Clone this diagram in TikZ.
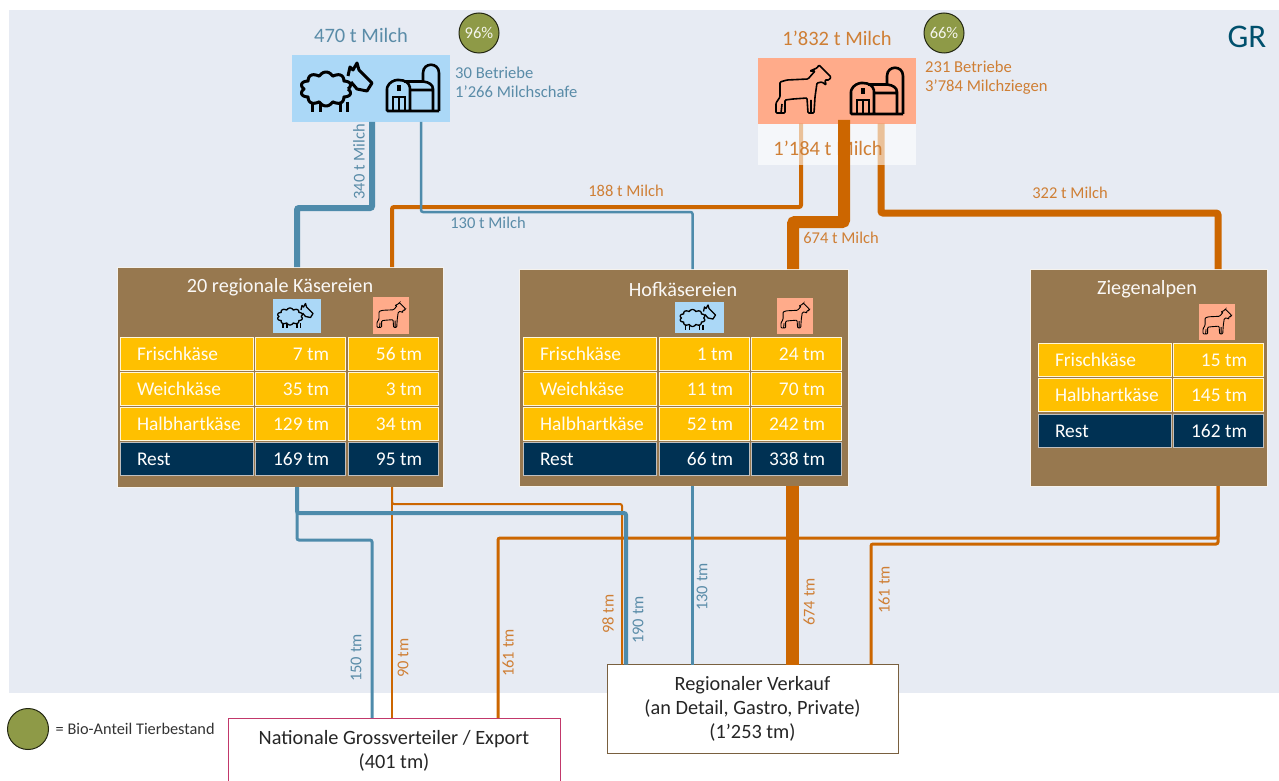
\documentclass[tikz,border=0pt]{standalone}
\usepackage{fontspec}
\setmainfont{Carlito}
\usetikzlibrary{positioning}
\definecolor{bgblue}{HTML}{E7EBF3}
\definecolor{sheepfill}{HTML}{ABD8F7}
\definecolor{goatfill}{HTML}{FFAB8A}
\definecolor{bioolive}{HTML}{8E9A47}
\definecolor{brownbox}{HTML}{97784F}
\definecolor{cellgold}{HTML}{FFC000}
\definecolor{cellnavy}{HTML}{003153}
\definecolor{linesheep}{HTML}{4E8BAB}
\definecolor{linegoat}{HTML}{CC6600}
\definecolor{textsheep}{HTML}{5A8CA8}
\definecolor{textgoat}{HTML}{CF7F35}
\definecolor{borderpink}{HTML}{C2386B}
\tikzset{
    %Define style for cheese table cells
    cellname/.style={
           rectangle,
           fill=cellgold,
           draw=white!85!cellgold, line width=1pt,
           inner sep=0pt, outer sep=0pt,
           text width=133pt,
           minimum height=33pt,
           text height=14pt, text depth=1pt,
           align=left,
           execute at begin node=\hspace*{17pt},
           text=white!95!cellgold,
           font=\fontsize{19.4}{21}\selectfont},
    cellnum/.style={
           cellname,
           text width=90pt,
           execute at begin node={},
           execute at end node=\hspace*{16pt},
           align=flush right},
    restcell/.style={
           fill=cellnavy,
           draw=white!75!black,
           text=white},
    %Define style for boxes
    dairy/.style={
           rectangle,
           fill=brownbox,
           draw=white!90!brownbox, line width=1pt,
           inner sep=0pt, outer sep=0pt},
    dairytitle/.style={
           text=white!95!brownbox,
           font=\fontsize{20.2}{22}\selectfont},
    farm/.style={
           rectangle,
           inner sep=0pt, outer sep=0pt,
           minimum width=158pt},
    tile/.style={
           rectangle,
           inner sep=0pt, outer sep=0pt,
           minimum height=34pt},
    bio/.style={
           circle,
           fill=bioolive,
           draw=black!75!bioolive, line width=1pt,
           inner sep=0pt, outer sep=0pt,
           minimum size=40pt,
           text=white!90!bioolive,
           font=\fontsize{16.5}{18}\selectfont},
    sale/.style={
           rectangle,
           fill=white,
           inner sep=0pt, outer sep=0pt,
           align=center,
           text=black!85,
           font=\fontsize{20.3}{24}\selectfont},
    %Define styles for flows and their labels
    flow/.style={
           rounded corners=2pt,
           line cap=butt},
    sheepflow/.style={flow, draw=linesheep},
    goatflow/.style={flow, draw=linegoat},
    sheeptext/.style={text=textsheep, inner sep=0pt, font=\fontsize{16.5}{18.5}\selectfont},
    goattext/.style={text=textgoat, inner sep=0pt, font=\fontsize{16.5}{18.5}\selectfont},
    bigmilk/.style={inner sep=0pt, font=\fontsize{20.5}{22}\selectfont},
    %Define icons
    sheepicon/.pic={
       \draw[line join=round] plot[domain=0:360, samples=91, smooth]
          ({-12+(22+3.5*abs(sin(5*\x)))*cos(\x)},{1+(13.5+3.5*abs(sin(5*\x)))*sin(\x)});
       \draw (-26,15) -- (-26,24) (-18,16) -- (-18,24) (2,15) -- (2,24) (9,14) -- (9,24);
       \draw[fill=none, line join=round] (10,-12) -- (12,-21) -- (15,-18) -- (19,-25) -- (21,-18) -- (34,-5)
          -- (29,3) -- (19,1) -- (13,-6);
    },
    goaticon/.pic={
       \draw[rounded corners=1pt] (-23,-8) -- (-16,-10) -- (5,-11) -- (12,-19) -- (7,-19) -- (14,-22)
          -- (16,-25) -- (20,-21) -- (28,-13) -- (26,-10) -- (22,-10) -- (23,-5) -- (19,-8) -- (14,-7)
          -- (12,7) -- (11,23) -- (5,23) -- (4,8) -- (-10,9) -- (-18,10) -- (-18,23) -- (-27,23)
          -- (-27,13) -- (-23,7) -- cycle;
       \draw (-22,23) -- (-21,14) (8,23) -- (8,10);
    },
    barnicon/.pic={
       \draw[rounded corners=1pt] (26,23) -- (-26,23) -- (-26,0) .. controls (-24,-6) and (-18,-8) .. (-15,-8)
          .. controls (-8,-8) and (-4,-5) .. (-3,0) -- (-3,23);
       \draw (-20,23) -- (-20,9) -- (-8,9) -- (-8,23) (-14,9) -- (-14,23);
       \draw (-15,-2) rectangle (-13,2);
       \draw (-9,-6.5) -- (10,-6.5) .. controls (16,-6) and (20,-3) .. (20,1) -- (20,23) (-3,2) -- (20,2);
       \draw (10,-6) -- (10,-15) .. controls (10,-26) and (26,-26) .. (26,-15) -- (26,23);
    }
}
\begin{document}
\begin{tikzpicture}[x=1pt,y=-1pt]
\useasboundingbox (0,0) rectangle (1279,781);
\clip (0,0) rectangle (1279,781);

 %background
\fill[bgblue] (9,10) rectangle (1279,693);
\node[text=cellnavy!85!cyan, inner sep=0pt, font=\fontsize{33}{35}\selectfont] (region) at (1247,37) {GR};

 %farms
\node[farm, fill=sheepfill, minimum height=67pt] (sheepfarm) at (371,88.5) {};
\node[farm, fill=goatfill, minimum height=66pt] (goatfarm) at (837,91) {};
\node[bio] (biosheep) at (479,33) {96\%};
\node[bio] (biogoat) at (944,33) {66\%};
\node[bigmilk, text=textsheep] (sheepmilk) at (361,35) {470 t Milch};
\node[bigmilk, text=textgoat] (goatmilk) at (837,38) {1’832 t Milch};
\node[inner sep=0pt, anchor=west, align=left, text=textsheep, font=\fontsize{16.6}{19}\selectfont] (sheepinfo) at (455,82.5) {30 Betriebe\\1’266 Milchschafe};
\node[inner sep=0pt, anchor=west, align=left, text=textgoat, font=\fontsize{16.6}{19}\selectfont] (goatinfo) at (925,77.5) {231 Betriebe\\3’784 Milchziegen};
\pic[line width=3pt] at (338,88) {sheepicon};
\pic[line width=2.6pt] at (413,88) {barnicon};
\pic[line width=1.6pt] at (803,90) {goaticon};
\pic[line width=2.6pt] at (877,91) {barnicon};

 %dairies
\node[dairy, minimum width=326pt, minimum height=220pt] (regio) at (280,377) {};
\node[dairy, minimum width=329pt, minimum height=217pt] (hof) at (683.5,377.5) {};
\node[dairy, minimum width=237pt, minimum height=217pt] (alp) at (1148.5,377.5) {};
\node[dairytitle] (regiotitle) at (280,287) {20 regionale Käsereien};
\node[dairytitle] (hoftitle) at (683,289) {Hofkäsereien};
\node[dairytitle] (alptitle) at (1147,289) {Ziegenalpen};

 %icon tiles
\node[tile, fill=sheepfill, minimum width=48pt] (regiosheep) at (297,316) {};
\node[tile, fill=goatfill, minimum width=36pt, minimum height=37pt] (regiogoat) at (391,315.5) {};
\node[tile, fill=sheepfill, minimum width=49pt, minimum height=31pt] (hofsheep) at (699.5,317.5) {};
\node[tile, fill=goatfill, minimum width=36pt, minimum height=36pt] (hofgoat) at (795,316) {};
\node[tile, fill=goatfill, minimum width=36pt, minimum height=36pt] (alpgoat) at (1217,322) {};
\pic[line width=1.3pt, scale=.5] at ([xshift=-1pt]regiosheep.center) {sheepicon};
\pic[line width=.9pt, scale=.52] at (regiogoat) {goaticon};
\pic[line width=1.3pt, scale=.5] at ([xshift=-1pt]hofsheep.center) {sheepicon};
\pic[line width=.9pt, scale=.52] at (hofgoat) {goaticon};
\pic[line width=.9pt, scale=.52] at (alpgoat) {goaticon};

 %regional table
\node[cellname] (rf) at (186.5,353.5) {Frischkäse};
\node[cellname, below=2pt of rf] (rw) {Weichkäse};
\node[cellname, below=2pt of rw] (rh) {Halbhartkäse};
\node[cellname, restcell, below=2pt of rh] (rr) {Rest};
\node[cellnum, right=2pt of rf] (rf1) {7~tm};
\node[cellnum, right=2pt of rw] (rw1) {35~tm};
\node[cellnum, right=2pt of rh] (rh1) {129~tm};
\node[cellnum, restcell, right=2pt of rr] (rr1) {169~tm};
\node[cellnum, right=3pt of rf1] (rf2) {56~tm};
\node[cellnum, right=3pt of rw1] (rw2) {3~tm};
\node[cellnum, right=3pt of rh1] (rh2) {34~tm};
\node[cellnum, restcell, right=3pt of rr1] (rr2) {95~tm};

 %farm table
\node[cellname] (hf) at (589.5,354) {Frischkäse};
\node[cellname, below=2pt of hf] (hw) {Weichkäse};
\node[cellname, below=2pt of hw] (hh) {Halbhartkäse};
\node[cellname, restcell, below=2pt of hh] (hr) {Rest};
\node[cellnum, right=3pt of hf] (hf1) {1~tm};
\node[cellnum, right=3pt of hw] (hw1) {11~tm};
\node[cellnum, right=3pt of hh] (hh1) {52~tm};
\node[cellnum, restcell, right=3pt of hr] (hr1) {66~tm};
\node[cellnum, right=2pt of hf1] (hf2) {24~tm};
\node[cellnum, right=2pt of hw1] (hw2) {70~tm};
\node[cellnum, right=2pt of hh1] (hh2) {242~tm};
\node[cellnum, restcell, right=2pt of hr1] (hr2) {338~tm};

 %alp table
\node[cellname] (af) at (1104.5,359.5) {Frischkäse};
\node[cellname, below=2.5pt of af] (ah) {Halbhartkäse};
\node[cellname, restcell, below=2.5pt of ah] (ar) {Rest};
\node[cellnum, right=2pt of af] (af1) {15~tm};
\node[cellnum, right=2pt of ah] (ah1) {145~tm};
\node[cellnum, restcell, right=2pt of ar] (ar1) {162~tm};

 %sales
\node[sale, draw=brownbox!80!black, line width=1pt, minimum width=291pt, minimum height=89pt] (verkauf) at (752.5,709) {Regionaler Verkauf\\(an Detail, Gastro, Private)\\(1’253 tm)};
\node[sale, draw=borderpink, line width=1pt, anchor=north, inner ysep=12pt, minimum width=332pt, minimum height=80pt, text depth=20pt] (national) at (394,718) {Nationale Grossverteiler / Export\\(401 tm)};

 %milk flows
\draw[goatflow, line width=4pt] ([xshift=-36pt]goatfarm.south) -- ++(0,83) -| ([xshift=112pt]regio.north);
\draw[goatflow, line width=7pt] ([xshift=44pt]goatfarm.south) -- ++(0,89) -| ([xshift=69.5pt]alp.north);
\node[farm, fill=white, fill opacity=.6, text opacity=1, minimum height=41pt] (goatrest) at (837,144.5) {};
\node[bigmilk, text=textgoat] (goatresttext) at (828,148) {1’184 t Milch};
\draw[goatflow, line width=12pt] ([xshift=7pt,yshift=4pt]goatfarm.south) -- ++(0,102) -| ([xshift=109.5pt]hof.north);
\draw[sheepflow, line width=6pt] ([xshift=1pt]sheepfarm.south) -- ++(0,86) -| ([xshift=17pt]regio.north);
\draw[sheepflow, line width=2.5pt] ([xshift=50pt]sheepfarm.south) -- ++(0,90) -| ([xshift=9pt]hof.north);

 %cheese flows
\draw[goatflow, line width=2pt] ([xshift=112pt]regio.south) -- ([xshift=-2pt]national.north);
\draw[goatflow, line width=2pt] ([xshift=112pt]regio.south) -- ++(0,17) -| ([xshift=-130.5pt]verkauf.north);
\draw[goatflow, line width=3pt] ([xshift=69.5pt]alp.south) -- ++(0,52) -| ([xshift=104pt]national.north);
\draw[goatflow, line width=3pt] ([xshift=69.5pt]alp.south) -- ++(0,58) -| ([xshift=118.5pt]verkauf.north);
\draw[sheepflow, line width=3pt] ([xshift=17pt]regio.south) -- ++(0,53) -| ([xshift=-22pt]national.north);
\draw[sheepflow, line width=4pt] ([xshift=17pt]regio.south) -- ++(0,26) -| ([xshift=-126.5pt]verkauf.north);
\draw[sheepflow, line width=2.5pt] ([xshift=9pt]hof.south) -- ([xshift=-60pt]verkauf.north);
\draw[goatflow, line width=13pt] ([xshift=108.5pt]hof.south) -- ([xshift=39.5pt]verkauf.north);

 %flow labels
\node[sheeptext, rotate=90] (l340) at (359,162) {340 t Milch};
\node[sheeptext] (l130) at (488,223) {130 t Milch};
\node[goattext] (l188) at (626,191) {188 t Milch};
\node[goattext] (l674) at (841,238) {674 t Milch};
\node[goattext] (l322) at (1070,193) {322 t Milch};
\node[sheeptext, rotate=90] (t150) at (356,658) {150 tm};
\node[goattext, rotate=90] (t90) at (403,658) {90 tm};
\node[goattext, rotate=90] (t161a) at (508,653) {161 tm};
\node[goattext, rotate=90] (t98) at (608,614) {98 tm};
\node[sheeptext, rotate=90] (t190) at (638,620) {190 tm};
\node[sheeptext, rotate=90] (t130) at (702,587) {130 tm};
\node[goattext, rotate=90] (t674) at (809,602) {674 tm};
\node[goattext, rotate=90] (t161b) at (884,590) {161 tm};

 %legend
\node[bio, minimum size=41pt] (biokey) at (28,729) {};
\node[inner sep=0pt, anchor=west, text=black!80, font=\fontsize{16.3}{17}\selectfont, right=7pt of biokey] (biotext) {= Bio-Anteil Tierbestand};
\end{tikzpicture}
\end{document}
